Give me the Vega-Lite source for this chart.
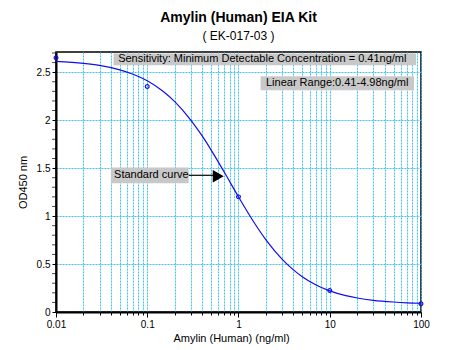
{
  "$schema": "https://vega.github.io/schema/vega-lite/v6.json",
  "width": 365,
  "height": 260,
  "autosize": {"type": "none"},
  "padding": {"left": 56, "top": 52, "right": 29, "bottom": 38},
  "background": "white",
  "title": {
    "text": "Amylin (Human) EIA Kit",
    "subtitle": "( EK-017-03 )",
    "anchor": "middle",
    "frame": "group",
    "font": "Liberation Sans",
    "fontSize": 14,
    "fontWeight": "bold",
    "color": "black",
    "subtitleFont": "Liberation Sans",
    "subtitleFontSize": 12,
    "subtitleColor": "black",
    "subtitlePadding": 6,
    "offset": 10
  },
  "config": {
    "view": {"stroke": "black", "strokeWidth": 1.5},
    "axis": {
      "labelFont": "Liberation Sans",
      "titleFont": "Liberation Sans",
      "labelColor": "black",
      "titleColor": "black",
      "domainColor": "black",
      "domainWidth": 2,
      "tickColor": "black",
      "titleFontWeight": "normal",
      "labelFontSize": 10,
      "titleFontSize": 11
    }
  },
  "datasets": {
    "curve": [
      {"conc": 0.01, "od": 2.612},
      {"conc": 0.02, "od": 2.592},
      {"conc": 0.03, "od": 2.570},
      {"conc": 0.05, "od": 2.524},
      {"conc": 0.07, "od": 2.478},
      {"conc": 0.1, "od": 2.410},
      {"conc": 0.15, "od": 2.298},
      {"conc": 0.2, "od": 2.193},
      {"conc": 0.3, "od": 2.001},
      {"conc": 0.4, "od": 1.835},
      {"conc": 0.5, "od": 1.690},
      {"conc": 0.7, "od": 1.456},
      {"conc": 1, "od": 1.200},
      {"conc": 1.5, "od": 0.925},
      {"conc": 2, "od": 0.752},
      {"conc": 3, "od": 0.551},
      {"conc": 4, "od": 0.439},
      {"conc": 5, "od": 0.368},
      {"conc": 7, "od": 0.284},
      {"conc": 10, "od": 0.220},
      {"conc": 15, "od": 0.170},
      {"conc": 20, "od": 0.146},
      {"conc": 30, "od": 0.122},
      {"conc": 50, "od": 0.104},
      {"conc": 70, "od": 0.096},
      {"conc": 100, "od": 0.091}
    ],
    "points": [
      {"conc": 0.01, "od": 2.65},
      {"conc": 0.1, "od": 2.35},
      {"conc": 1, "od": 1.2},
      {"conc": 10, "od": 0.225},
      {"conc": 100, "od": 0.087}
    ],
    "boxes": [
      {"x": 0.0427, "x2": 88.1, "y": 2.695, "y2": 2.573},
      {"x": 1.746, "x2": 83.8, "y": 2.458, "y2": 2.3125},
      {"x": 0.0399, "x2": 0.2845, "y": 1.507, "y2": 1.341}
    ],
    "labels": [
      {"x": 0.048, "y": 2.634, "label": "Sensitivity: Minimum Detectable Concentration = 0.41ng/ml"},
      {"x": 2.0, "y": 2.385, "label": "Linear Range:0.41-4.98ng/ml"},
      {"x": 0.0433, "y": 1.424, "label": "Standard curve"}
    ],
    "arrow": [
      {"x": 0.2845, "x2": 0.56, "y": 1.425}
    ],
    "arrowhead": [
      {"x": 0.6, "y": 1.415}
    ],
    "minor": [
      {"v": 0.1}, {"v": 0.2}, {"v": 0.3}, {"v": 0.4}, {"v": 0.6}, {"v": 0.7}, {"v": 0.8}, {"v": 0.9},
      {"v": 1.1}, {"v": 1.2}, {"v": 1.3}, {"v": 1.4}, {"v": 1.6}, {"v": 1.7}, {"v": 1.8}, {"v": 1.9},
      {"v": 2.1}, {"v": 2.2}, {"v": 2.3}, {"v": 2.4}, {"v": 2.6}, {"v": 2.7}
    ]
  },
  "layer": [
    {
      "data": {"name": "boxes"},
      "mark": {"type": "rect", "color": "#c8c8c8"},
      "encoding": {
        "x": {
          "field": "x", "type": "quantitative",
          "scale": {"type": "log", "domain": [0.01, 100], "nice": false},
          "axis": {
            "title": "Amylin (Human) (ng/ml)",
            "titleX": 175,
            "values": [0.01,0.02,0.03,0.04,0.05,0.06,0.07,0.08,0.09,0.1,0.2,0.3,0.4,0.5,0.6,0.7,0.8,0.9,1,2,3,4,5,6,7,8,9,10,20,30,40,50,60,70,80,90,100],
            "format": "~g",
            "labelExpr": "indexof([0.01,0.1,1,10,100], datum.value) >= 0 ? datum.label : ''",
            "labelPadding": 2,
            "titlePadding": 3,
            "tickSize": {"condition": {"test": "indexof([0.01,0.1,1,10,100], datum.value) >= 0", "value": 5}, "value": 3},
            "grid": true,
            "gridColor": "#3cc4f0",
            "gridDash": [2, 1],
            "gridWidth": 1,
            "labelFlush": false,
            "labelOverlap": false
          }
        },
        "x2": {"field": "x2"},
        "y": {
          "field": "y", "type": "quantitative",
          "scale": {"domain": [0, 2.71], "nice": false, "zero": false},
          "axis": {
            "title": "OD450 nm",
            "values": [0, 0.5, 1, 1.5, 2, 2.5],
            "format": "~g",
            "labelPadding": 2,
            "titlePadding": 8,
            "tickSize": 4,
            "grid": true,
            "gridColor": "#3cc4f0",
            "gridDash": [2, 1],
            "gridWidth": 1,
            "labelOverlap": false,
            "labelFlush": false
          }
        },
        "y2": {"field": "y2"}
      }
    },
    {
      "data": {"name": "minor"},
      "mark": {"type": "tick", "orient": "horizontal", "color": "black", "size": 4, "thickness": 1, "xOffset": -2},
      "encoding": {
        "y": {"field": "v", "type": "quantitative"},
        "x": {"datum": 0.01, "type": "quantitative"}
      }
    },
    {
      "data": {"name": "labels"},
      "mark": {"type": "text", "align": "left", "baseline": "middle", "font": "Liberation Sans", "fontSize": 11, "color": "black"},
      "encoding": {
        "x": {"field": "x", "type": "quantitative"},
        "y": {"field": "y", "type": "quantitative"},
        "text": {"field": "label"}
      }
    },
    {
      "data": {"name": "curve"},
      "mark": {"type": "line", "color": "#1010e8", "strokeWidth": 1.2, "interpolate": "monotone"},
      "encoding": {
        "x": {"field": "conc", "type": "quantitative"},
        "y": {"field": "od", "type": "quantitative"}
      }
    },
    {
      "data": {"name": "points"},
      "mark": {"type": "point", "shape": "circle", "filled": false, "color": "#1010e8", "size": 14, "strokeWidth": 1.2, "opacity": 1},
      "encoding": {
        "x": {"field": "conc", "type": "quantitative"},
        "y": {"field": "od", "type": "quantitative"}
      }
    },
    {
      "data": {"name": "arrow"},
      "mark": {"type": "rule", "color": "black", "strokeWidth": 1.2},
      "encoding": {
        "x": {"field": "x", "type": "quantitative"},
        "x2": {"field": "x2"},
        "y": {"field": "y", "type": "quantitative"}
      }
    },
    {
      "data": {"name": "arrowhead"},
      "mark": {"type": "point", "shape": "triangle-right", "filled": true, "color": "black", "size": 160, "opacity": 1},
      "encoding": {
        "x": {"field": "x", "type": "quantitative"},
        "y": {"field": "y", "type": "quantitative"}
      }
    }
  ]
}
